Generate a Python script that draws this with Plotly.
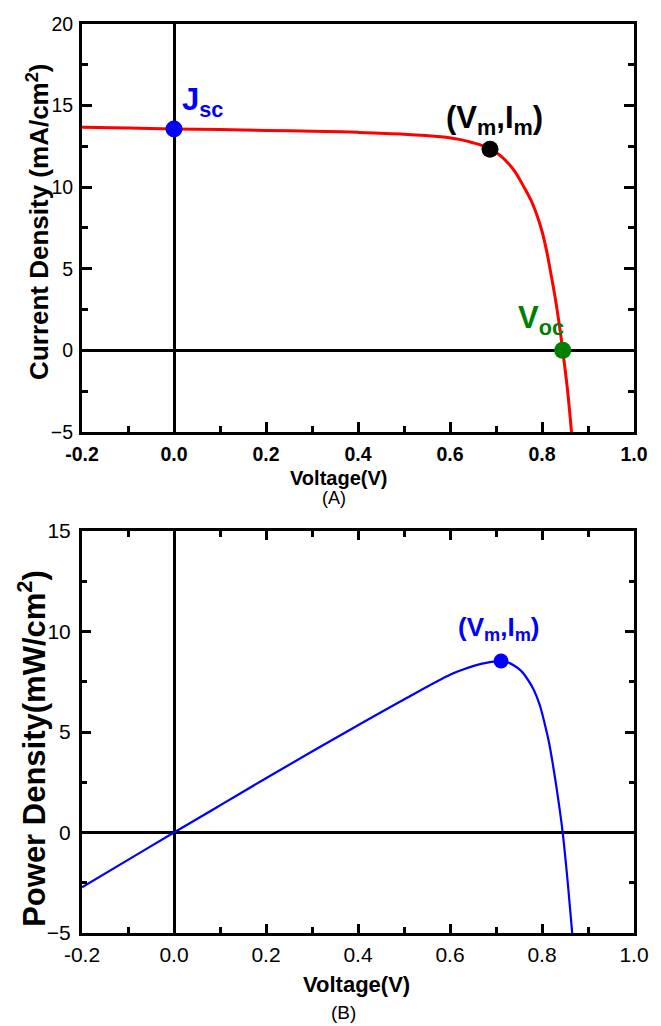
import plotly.graph_objects as go

# J-V curve of the cell (voltage in V, current density in mA/cm^2)
v_jv = [-0.2, -0.1, 0.0, 0.1, 0.2, 0.3, 0.4, 0.5, 0.58, 0.62, 0.65, 0.67, 0.687,
        0.70, 0.715, 0.727, 0.74, 0.75, 0.76, 0.776, 0.79, 0.80, 0.81, 0.82, 0.83,
        0.84, 0.845, 0.855, 0.866]
j_jv = [13.68, 13.63, 13.57, 13.53, 13.48, 13.43, 13.36, 13.25, 13.09, 12.93, 12.72,
        12.55, 12.33, 12.12, 11.80, 11.45, 11.00, 10.55, 10.05, 9.20, 8.20, 7.30, 6.10,
        4.60, 3.00, 1.10, 0.0, -2.3, -5.6]

# P-V curve (power density in mW/cm^2)
v_pv = [-0.2, -0.1, 0.0, 0.1, 0.2, 0.3, 0.4, 0.5, 0.6, 0.63, 0.65, 0.67, 0.69, 0.711,
        0.725, 0.74, 0.753, 0.765, 0.782, 0.795, 0.806, 0.815, 0.825, 0.835, 0.845,
        0.856, 0.868]
p_pv = [-2.72, -1.36, 0.0, 1.35, 2.70, 4.03, 5.34, 6.62, 7.85, 8.12, 8.28, 8.40, 8.49,
        8.53, 8.47, 8.30, 8.08, 7.75, 7.10, 6.35, 5.40, 4.50, 3.20, 1.70, 0.0, -2.5, -5.6]

# Characteristic points
jsc_point = (0.0, 13.57)
mpp_jv = (0.687, 12.33)
voc_point = (0.845, 0.0)
mpp_pv = (0.711, 8.53)

x_ticks = [-0.2, 0.0, 0.2, 0.4, 0.6, 0.8, 1.0]
x_tick_text = ["-0.2", "0.0", "0.2", "0.4", "0.6", "0.8", "1.0"]

FONT = "Liberation Sans, Arial, sans-serif"
BLUE = "#0000ff"
GREEN = "#008000"
RED = "#ff0000"

fig = go.Figure()

fig.add_trace(go.Scatter(x=v_jv, y=j_jv, mode="lines", line=dict(color=RED, width=3, shape="spline", smoothing=1.0),
                         xaxis="x", yaxis="y", showlegend=False, hoverinfo="skip"))
fig.add_trace(go.Scatter(x=[jsc_point[0]], y=[jsc_point[1]], mode="markers",
                         marker=dict(color=BLUE, size=17), xaxis="x", yaxis="y", showlegend=False))
fig.add_trace(go.Scatter(x=[mpp_jv[0]], y=[mpp_jv[1]], mode="markers",
                         marker=dict(color="black", size=17), xaxis="x", yaxis="y", showlegend=False))
fig.add_trace(go.Scatter(x=[voc_point[0]], y=[voc_point[1]], mode="markers",
                         marker=dict(color=GREEN, size=17), xaxis="x", yaxis="y", showlegend=False))

fig.add_trace(go.Scatter(x=v_pv, y=p_pv, mode="lines", line=dict(color=BLUE, width=2.2, shape="spline", smoothing=1.0),
                         xaxis="x2", yaxis="y2", showlegend=False, hoverinfo="skip"))
fig.add_trace(go.Scatter(x=[mpp_pv[0]], y=[mpp_pv[1]], mode="markers",
                         marker=dict(color=BLUE, size=15), xaxis="x2", yaxis="y2", showlegend=False))

common_x = dict(range=[-0.2, 1.0], tickvals=x_ticks, ticktext=x_tick_text, ticks="inside",
                showline=True, linecolor="black", linewidth=3, showgrid=False,
                zeroline=True, zerolinecolor="black", zerolinewidth=3,
                minor=dict(dtick=0.1, tick0=0, ticks="inside", ticklen=6, tickwidth=2.5, tickcolor="black"),
                tickcolor="black", tickwidth=2.5)

fig.update_layout(
    width=661, height=1026,
    margin=dict(l=82, r=18, t=24, b=93),
    paper_bgcolor="white", plot_bgcolor="white",
    font=dict(family=FONT, color="black"),
    xaxis=dict(common_x, anchor="y", mirror=True, ticklen=10,
               tickfont=dict(size=19.5, weight="bold", family=FONT), ticklabelstandoff=3),
    yaxis=dict(domain=[0.5512, 1.0], anchor="x", range=[-5, 20], tickvals=[-5, 0, 5, 10, 15, 20],
               ticks="inside", ticklen=10, tickwidth=2.5, tickcolor="black", mirror="allticks",
               showline=True, linecolor="black", linewidth=3, showgrid=False,
               zeroline=True, zerolinecolor="black", zerolinewidth=3,
               minor=dict(dtick=2.5, tick0=0, ticks="inside", ticklen=6, tickwidth=2.5, tickcolor="black"),
               tickfont=dict(size=19.5, family=FONT), ticklabelstandoff=2),
    xaxis2=dict(common_x, anchor="y2", mirror="allticks", ticklen=9,
                tickfont=dict(size=21, family=FONT), ticklabelstandoff=1),
    yaxis2=dict(domain=[0.0, 0.4422], anchor="x2", range=[-5, 15], tickvals=[-5, 0, 5, 10, 15],
                ticks="inside", ticklen=9, tickwidth=2.5, tickcolor="black", mirror="allticks",
                showline=True, linecolor="black", linewidth=3, showgrid=False,
                zeroline=True, zerolinecolor="black", zerolinewidth=3,
                minor=dict(dtick=2.5, tick0=0, ticks="inside", ticklen=5, tickwidth=2.5, tickcolor="black"),
                tickfont=dict(size=21, family=FONT), ticklabelstandoff=4),
)

annotations = [
    # point labels, top panel
    dict(x=0.012, y=15.2, xref="x", yref="y", xanchor="left", yanchor="middle",
         text="<b>J<sub>sc</sub></b>", font=dict(size=31, color=BLUE, family=FONT), showarrow=False),
    dict(x=0.697, y=14.1, xref="x", yref="y", xanchor="center", yanchor="middle",
         text="<b>(V<sub>m</sub>,I<sub>m</sub>)</b>", font=dict(size=31, color="black", family=FONT), showarrow=False),
    dict(x=0.797, y=1.87, xref="x", yref="y", xanchor="center", yanchor="middle",
         text="<b>V<sub>oc</sub></b>", font=dict(size=31, color=GREEN, family=FONT), showarrow=False),
    # point label, bottom panel
    dict(x=0.705, y=10.17, xref="x2", yref="y2", xanchor="center", yanchor="middle",
         text="<b>(V<sub>m</sub>,I<sub>m</sub>)</b>", font=dict(size=26, color=BLUE, family=FONT), showarrow=False),
    # axis titles
    dict(x=-0.0802, y=0.782, xref="paper", yref="paper", xanchor="center", yanchor="middle", textangle=-90,
         text="<b>Current Density (mA/cm<sup>2</sup>)</b>", font=dict(size=26, family=FONT), showarrow=False),
    dict(x=-0.0909, y=0.2035, xref="paper", yref="paper", xanchor="center", yanchor="middle", textangle=-90,
         text="<b>Power Density(mW/cm<sup>2</sup>)</b>", font=dict(size=31, family=FONT), showarrow=False),
    dict(x=0.4652, y=0.5006, xref="paper", yref="paper", xanchor="center", yanchor="middle",
         text="<b>Voltage(V)</b>", font=dict(size=20, family=FONT), showarrow=False),
    dict(x=0.4563, y=0.4785, xref="paper", yref="paper", xanchor="center", yanchor="middle",
         text="(A)", font=dict(size=18, family=FONT), showarrow=False),
    dict(x=0.4973, y=-0.0572, xref="paper", yref="paper", xanchor="center", yanchor="middle",
         text="<b>Voltage(V)</b>", font=dict(size=22, family=FONT), showarrow=False),
    dict(x=0.4742, y=-0.088, xref="paper", yref="paper", xanchor="center", yanchor="middle",
         text="(B)", font=dict(size=19, family=FONT), showarrow=False),
]
fig.update_layout(annotations=annotations)

fig.write_html("out.html")
